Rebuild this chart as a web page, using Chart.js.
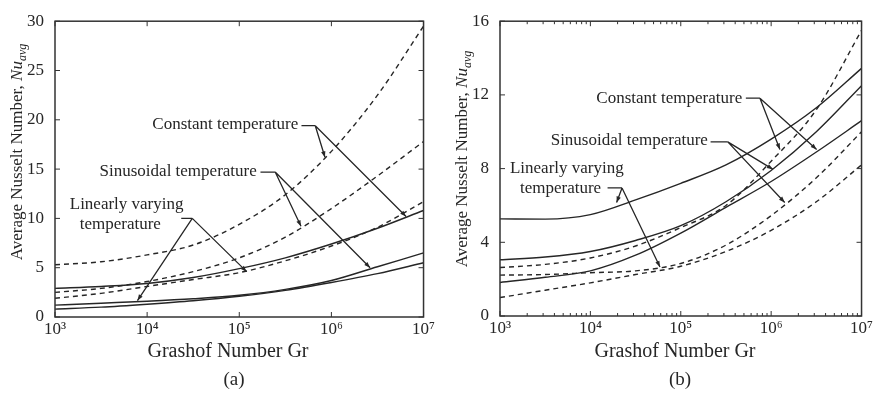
<!DOCTYPE html>
<html>
<head>
<meta charset="utf-8">
<script src="https://cdn.jsdelivr.net/npm/chart.js@4.4.1/dist/chart.umd.min.js"></script>
<style>
  html, body { margin: 0; padding: 0; background: #fff; }
  #wrap { position: relative; width: 875px; height: 396px; }
  canvas { position: absolute; top: 0; }
</style>
</head>
<body>
<div id="wrap">
  <canvas id="chartA" width="437" height="396" style="left:0"></canvas>
  <canvas id="chartB" width="438" height="396" style="left:437px"></canvas>
</div>
<script>
// Grashof numbers (x) shared by all curves
const grashof = [1e3, 3162, 1e4, 31623, 1e5, 316228, 1e6, 3162278, 1e7];
const xTickValues = [1e3, 1e4, 1e5, 1e6, 1e7];
const xTickLabels = ['10³', '10⁴', '10⁵', '10⁶', '10⁷'];

// panel (a)
const aConstantDashed = [5.3, 5.6, 6.3, 7.3, 9.4, 12.4, 16.8, 22.5, 29.5];
const aSinusoidalDashed = [2.5, 2.9, 3.6, 4.6, 6.0, 8.1, 11.0, 14.3, 17.8];
const aLinearDashed = [1.9, 2.4, 3.1, 3.8, 4.5, 5.7, 7.2, 9.1, 11.7];
const aConstantSolid = [2.9, 3.1, 3.4, 4.0, 4.9, 6.0, 7.4, 9.0, 10.8];
const aSinusoidalSolid = [1.2, 1.4, 1.6, 1.85, 2.2, 2.8, 3.7, 5.1, 6.5];
const aLinearSolid = [0.8, 1.0, 1.3, 1.65, 2.1, 2.7, 3.5, 4.4, 5.5];

// panel (b)
const bConstantDashed = [2.63, 2.8, 3.15, 3.8, 4.8, 6.0, 8.4, 11.2, 15.5];
const bSinusoidalDashed = [2.22, 2.25, 2.35, 2.45, 2.85, 3.85, 5.45, 7.5, 10.0];
const bLinearDashed = [1.0, 1.4, 1.8, 2.25, 2.7, 3.5, 4.65, 6.2, 8.2];
const bConstantSolid = [1.82, 2.1, 2.45, 3.3, 4.5, 5.9, 7.3, 8.9, 10.6];
const bSinusoidalSolid = [3.05, 3.2, 3.5, 4.1, 4.9, 6.2, 7.9, 10.0, 12.5];
const bLinearSolid = [5.27, 5.26, 5.5, 6.3, 7.2, 8.2, 9.6, 11.3, 13.44];

// callouts, in data coordinates (Gr, Nu)
const aCallouts = [
  { text: ['Constant temperature'], at: [10 ** 5.64, 19.5], align: 'right',
    leader: [[10 ** 5.675, 19.4], [10 ** 5.825, 19.4]],
    tips: [[10 ** 5.93, 16.2], [10 ** 6.81, 10.2]] },
  { text: ['Sinusoidal temperature'], at: [10 ** 5.19, 14.8], align: 'right',
    leader: [[10 ** 5.23, 14.7], [10 ** 5.39, 14.7]],
    tips: [[10 ** 5.67, 9.2], [10 ** 6.42, 5.0]] },
  { text: ['Linearly varying', 'temperature'], at: [10 ** 3.16, 11.4], align: 'left',
    leader: [[10 ** 4.37, 10.0], [10 ** 4.49, 10.0]],
    tips: [[10 ** 3.895, 1.67], [10 ** 5.08, 4.6]] }
];
const bCallouts = [
  { text: ['Constant temperature'], at: [10 ** 5.68, 11.82], align: 'right',
    leader: [[10 ** 5.72, 11.82], [10 ** 5.876, 11.82]],
    tips: [[10 ** 6.097, 9.04], [10 ** 6.503, 9.04]] },
  { text: ['Sinusoidal temperature'], at: [10 ** 5.30, 9.54], align: 'right',
    leader: [[10 ** 5.33, 9.45], [10 ** 5.52, 9.45]],
    tips: [[10 ** 6.02, 7.96], [10 ** 6.15, 6.16]] },
  { text: ['Linearly varying', 'temperature'], at: [10 ** 3.11, 8.03], align: 'left',
    leader: [[10 ** 4.19, 6.95], [10 ** 4.35, 6.95]],
    tips: [[10 ** 4.29, 6.16], [10 ** 4.77, 2.66]] }
];

const ink = '#262626';
const serif = "'Liberation Serif', 'DejaVu Serif', serif";

function curve(values, dashed) {
  return {
    data: grashof.map((g, i) => ({ x: g, y: values[i] })),
    borderColor: ink,
    borderWidth: 1.4,
    borderDash: dashed ? [5, 4] : [],
    pointRadius: 0,
    cubicInterpolationMode: 'monotone',
    fill: false
  };
}

// box round the plot and inward ticks, MATLAB style
const frame = {
  id: 'frame',
  afterDraw(chart, args, opts) {
    const { ctx, chartArea: a, scales: { x, y } } = chart;
    ctx.save();
    ctx.strokeStyle = '#333';
    ctx.lineWidth = 1.5;
    ctx.strokeRect(a.left, a.top, a.right - a.left, a.bottom - a.top);
    ctx.lineWidth = 1;
    ctx.beginPath();
    xTickValues.forEach(v => {
      const px = x.getPixelForValue(v);
      ctx.moveTo(px, a.bottom); ctx.lineTo(px, a.bottom - 5);
      ctx.moveTo(px, a.top); ctx.lineTo(px, a.top + 5);
    });
    if (opts.minor) {
      for (let d = 3; d < 7; d++) {
        for (let k = 2; k < 10; k++) {
          const px = x.getPixelForValue(k * 10 ** d);
          ctx.moveTo(px, a.bottom); ctx.lineTo(px, a.bottom - 3);
          ctx.moveTo(px, a.top); ctx.lineTo(px, a.top + 3);
        }
      }
    }
    y.ticks.forEach(t => {
      const py = y.getPixelForValue(t.value);
      ctx.moveTo(a.left, py); ctx.lineTo(a.left + 5, py);
      ctx.moveTo(a.right, py); ctx.lineTo(a.right - 5, py);
    });
    ctx.stroke();
    ctx.restore();
  }
};

function arrowHead(ctx, x0, y0, x1, y1) {
  const ang = Math.atan2(y1 - y0, x1 - x0);
  const len = 6, half = 2.2;
  ctx.beginPath();
  ctx.moveTo(x1, y1);
  ctx.lineTo(x1 - len * Math.cos(ang) + half * Math.sin(ang), y1 - len * Math.sin(ang) - half * Math.cos(ang));
  ctx.lineTo(x1 - len * Math.cos(ang) - half * Math.sin(ang), y1 - len * Math.sin(ang) + half * Math.cos(ang));
  ctx.closePath();
  ctx.fill();
}

// titles, caption and callouts
const texts = {
  id: 'texts',
  afterDatasetsDraw(chart, args, opts) {
    const { ctx, scales: { x, y } } = chart;
    ctx.save();
    ctx.fillStyle = ink;
    ctx.strokeStyle = ink;

    // callouts
    ctx.font = '17px ' + serif;
    ctx.textBaseline = 'middle';
    opts.callouts.forEach(c => {
      const tx = x.getPixelForValue(c.at[0]);
      const ty = y.getPixelForValue(c.at[1]);
      ctx.textAlign = c.align;
      c.text.forEach((line, i) => ctx.fillText(line, tx + (i ? 10 : 0), ty + i * 20));
      const l0 = [x.getPixelForValue(c.leader[0][0]), y.getPixelForValue(c.leader[0][1])];
      const l1 = [x.getPixelForValue(c.leader[1][0]), y.getPixelForValue(c.leader[1][1])];
      ctx.lineWidth = 1.3;
      ctx.beginPath();
      ctx.moveTo(l0[0], l0[1]);
      ctx.lineTo(l1[0], l1[1]);
      c.tips.forEach(t => {
        ctx.moveTo(l1[0], l1[1]);
        ctx.lineTo(x.getPixelForValue(t[0]), y.getPixelForValue(t[1]));
      });
      ctx.stroke();
      c.tips.forEach(t => arrowHead(ctx, l1[0], l1[1], x.getPixelForValue(t[0]), y.getPixelForValue(t[1])));
    });

    // x title and caption
    ctx.textAlign = 'center';
    ctx.font = '20px ' + serif;
    ctx.fillText('Grashof Number Gr', opts.xTitle[0], opts.xTitle[1]);
    ctx.font = '19px ' + serif;
    ctx.fillText(opts.caption, opts.captionAt[0], opts.captionAt[1]);

    // y title with Nu_avg subscript
    ctx.translate(opts.yTitle[0], opts.yTitle[1]);
    ctx.rotate(-Math.PI / 2);
    ctx.textAlign = 'left';
    const mainFont = '17px ' + serif;
    const italFont = 'italic 17px ' + serif;
    const subFont = 'italic 12px ' + serif;
    ctx.font = mainFont; const w1 = ctx.measureText('Average Nusselt Number, ').width;
    ctx.font = italFont; const w2 = ctx.measureText('Nu').width;
    ctx.font = subFont; const w3 = ctx.measureText('avg').width;
    let sx = -(w1 + w2 + w3) / 2;
    ctx.font = mainFont; ctx.fillText('Average Nusselt Number, ', sx, 0); sx += w1;
    ctx.font = italFont; ctx.fillText('Nu', sx, 0); sx += w2;
    ctx.font = subFont; ctx.fillText('avg', sx, 5);
    ctx.restore();
  }
};

function makeChart(id, sets, yMax, yStep, geom) {
  const ds = [
    curve(sets[0], true), curve(sets[1], true), curve(sets[2], true),
    curve(sets[3], false), curve(sets[4], false), curve(sets[5], false)
  ];
  return new Chart(document.getElementById(id), {
    type: 'line',
    data: { datasets: ds },
    options: {
      responsive: false,
      animation: false,
      layout: { padding: { top: geom.top, right: geom.right, left: 0, bottom: 0 } },
      plugins: {
        legend: { display: false },
        tooltip: { enabled: false },
        frame: { minor: geom.minor },
        texts: {
          callouts: geom.callouts,
          xTitle: geom.xTitle,
          caption: geom.caption,
          captionAt: geom.captionAt,
          yTitle: geom.yTitle
        }
      },
      scales: {
        x: {
          type: 'logarithmic',
          min: 1e3,
          max: 1e7,
          grid: { display: false, drawTicks: false },
          border: { display: false },
          afterBuildTicks: s => { s.ticks = xTickValues.map(v => ({ value: v })); },
          afterFit: s => { s.height = 396 - geom.bottom; },
          ticks: {
            color: ink,
            font: { family: serif, size: 17 },
            padding: 2,
            maxRotation: 0,
            autoSkip: false,
            callback: v => xTickLabels[xTickValues.indexOf(v)]
          }
        },
        y: {
          min: 0,
          max: yMax,
          grid: { display: false, drawTicks: false },
          border: { display: false },
          afterFit: s => { s.width = geom.left; },
          ticks: {
            stepSize: yStep,
            color: ink,
            font: { family: serif, size: 17 },
            padding: 11
          }
        }
      }
    },
    plugins: [frame, texts]
  });
}

makeChart('chartA',
  [aConstantDashed, aSinusoidalDashed, aLinearDashed, aConstantSolid, aSinusoidalSolid, aLinearSolid],
  30, 5,
  { left: 55, top: 17, right: 11, bottom: 317, minor: false, callouts: aCallouts,
    xTitle: [228, 352], caption: '(a)', captionAt: [234, 380], yTitle: [18, 152] });

makeChart('chartB',
  [bConstantDashed, bSinusoidalDashed, bLinearDashed, bConstantSolid, bSinusoidalSolid, bLinearSolid],
  16, 4,
  { left: 63, top: 19, right: 13, bottom: 316, minor: true, callouts: bCallouts,
    xTitle: [238, 352], caption: '(b)', captionAt: [243, 380], yTitle: [26, 159] });
</script>
</body>
</html>
